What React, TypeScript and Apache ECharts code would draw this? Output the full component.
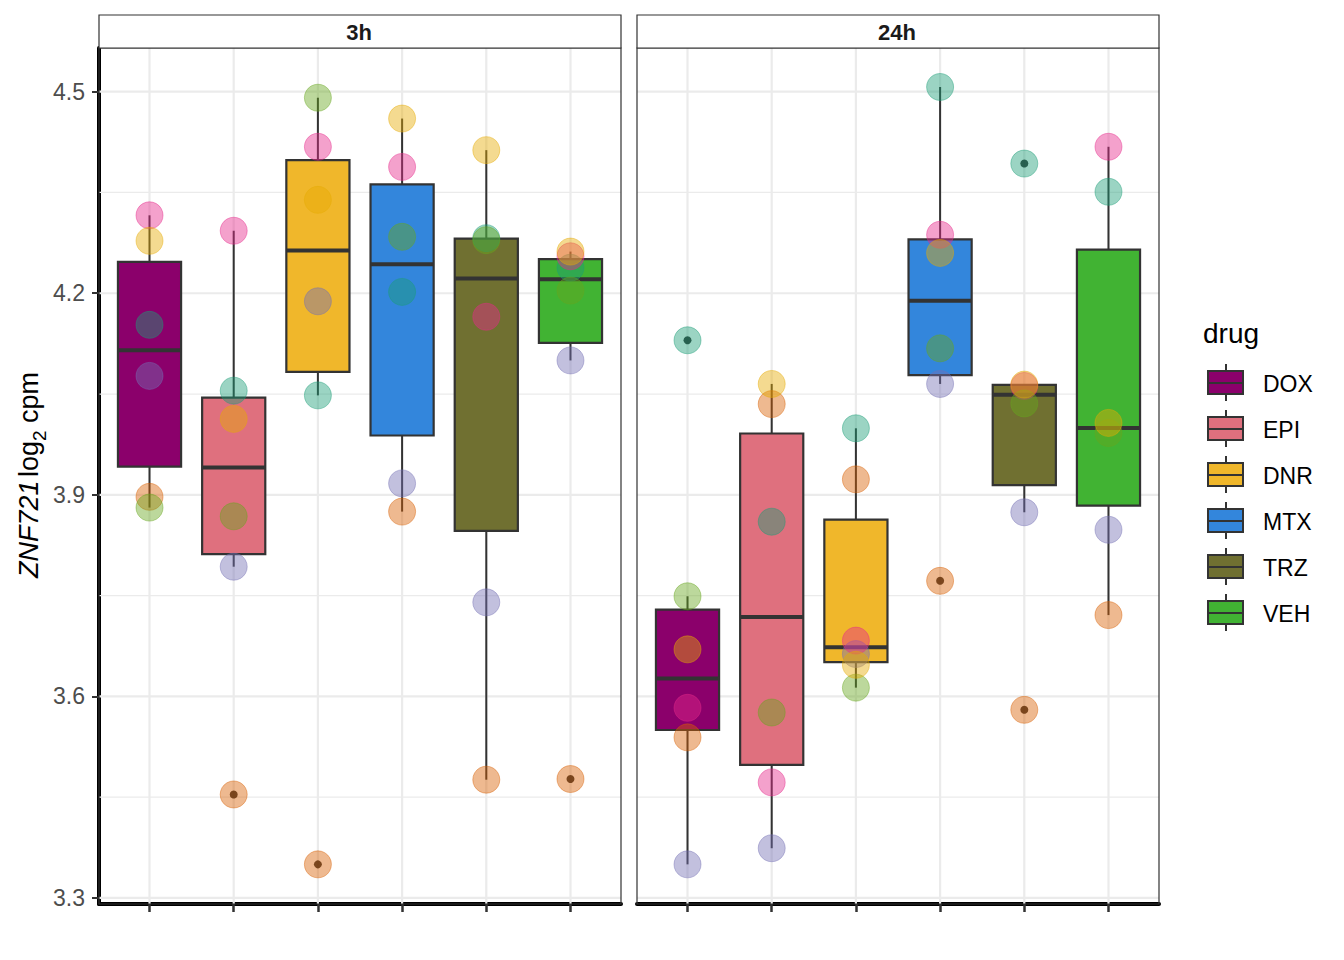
import React, { useEffect, useRef } from "react";
import * as echarts from "echarts";

const FONT = "'Liberation Sans', Arial, sans-serif";

const drugs = ["DOX", "EPI", "DNR", "MTX", "TRZ", "VEH"];
const drugColors = ["#8B006B", "#DF707E", "#F0B72B", "#3386DC", "#707031", "#41B333"];
const times = ["3h", "24h"];

// individuals (Dark2 palette order), values in drug order
const indColors = ["#1B9E77", "#D95F02", "#7570B3", "#E7298A", "#66A61E", "#E6AB02"];

const ind1_3h = [4.153, 4.055, 4.048, 4.202, 4.282, 4.238];
const ind2_3h = [3.897, 3.454, 3.350, 3.875, 3.476, 3.477];
const ind3_3h = [4.077, 3.793, 4.188, 3.917, 3.740, 4.100];
const ind4_3h = [4.316, 4.293, 4.418, 4.388, 4.165, 4.255];
const ind5_3h = [3.881, 3.868, 4.491, 4.284, 4.279, 4.204];
const ind6_3h = [4.278, 4.013, 4.339, 4.460, 4.413, 4.262];

const ind1_24h = [4.130, 3.860, 3.999, 4.507, 4.393, 4.351];
const ind2_24h = [3.539, 4.035, 3.923, 3.772, 3.580, 3.721];
const ind3_24h = [3.350, 3.374, 3.663, 4.065, 3.874, 3.848];
const ind4_24h = [3.583, 3.472, 3.683, 4.287, 4.062, 4.418];
const ind5_24h = [3.749, 3.576, 3.613, 4.118, 4.036, 3.992];
const ind6_24h = [3.670, 4.065, 3.647, 4.260, 4.064, 4.007];

const values = [
  [ind1_3h, ind2_3h, ind3_3h, ind4_3h, ind5_3h, ind6_3h],
  [ind1_24h, ind2_24h, ind3_24h, ind4_24h, ind5_24h, ind6_24h],
];

const yTicks = [3.3, 3.6, 3.9, 4.2, 4.5];
const yMinor = [3.45, 3.75, 4.05, 4.35];
const xTicks = [1, 2, 3, 4, 5, 6];
const Y_MIN = 3.291;
const Y_MAX = 4.565;
const X_MIN = 0.4;
const X_MAX = 6.6;

const panelLefts = [99, 637];
const PANEL_TOP = 48;
const PANEL_W = 522;
const PANEL_H = 856;

function quantile(s: number[], p: number) {
  const h = (s.length - 1) * p;
  const lo = Math.floor(h);
  const hi = Math.min(lo + 1, s.length - 1);
  return s[lo] + (h - lo) * (s[hi] - s[lo]);
}

function boxStats(vals: number[]) {
  const s = [...vals].sort((a, b) => a - b);
  const q1 = quantile(s, 0.25);
  const med = quantile(s, 0.5);
  const q3 = quantile(s, 0.75);
  const iqr = q3 - q1;
  const lf = q1 - 1.5 * iqr;
  const hf = q3 + 1.5 * iqr;
  const inside = s.filter((v) => v >= lf && v <= hf);
  const out = s.filter((v) => v < lf || v > hf);
  return { lo: inside[0], q1, med, q3, hi: inside[inside.length - 1], out };
}

function hexToRgba(hex: string, a: number) {
  const n = parseInt(hex.slice(1), 16);
  return `rgba(${(n >> 16) & 255},${(n >> 8) & 255},${n & 255},${a})`;
}

export default function App() {
  const ref = useRef<HTMLDivElement>(null);
  useEffect(() => {
    if (!ref.current) return;
    const chart = echarts.init(ref.current, null, { renderer: "svg" });

    const grids: any[] = [];
    const xAxes: any[] = [];
    const yAxes: any[] = [];
    const series: any[] = [];
    const graphics: any[] = [];

    times.forEach((t, pi) => {
      grids.push({ left: panelLefts[pi], top: PANEL_TOP, width: PANEL_W, height: PANEL_H });
      xAxes.push({
        type: "value",
        gridIndex: pi,
        min: X_MIN,
        max: X_MAX,
        axisLine: { show: true, onZero: false, lineStyle: { color: "#000", width: 4 } },
        axisTick: { show: true, customValues: xTicks, length: 8, lineStyle: { color: "#333", width: 2.5 } },
        axisLabel: { show: false },
        splitLine: { show: false },
      });
      yAxes.push({
        type: "value",
        gridIndex: pi,
        min: Y_MIN,
        max: Y_MAX,
        axisLine: { show: pi === 0, onZero: false, lineStyle: { color: "#000", width: 4 } },
        axisTick: { show: pi === 0, customValues: yTicks, length: 7, lineStyle: { color: "#333", width: 2 } },
        axisLabel: {
          show: pi === 0,
          customValues: yTicks,
          formatter: (v: number) => v.toFixed(1),
          color: "#4D4D4D",
          fontSize: 23,
          fontFamily: FONT,
          margin: 14,
        },
        splitLine: { show: false },
      });

      // grid lines
      series.push({
        type: "custom",
        xAxisIndex: pi,
        yAxisIndex: pi,
        z: 1,
        silent: true,
        data: [[1, 4]],
        renderItem: (_p: any, api: any) => {
          const children: any[] = [];
          yMinor.forEach((v) => {
            const a = api.coord([X_MIN, v]);
            const b = api.coord([X_MAX, v]);
            children.push({ type: "line", shape: { x1: a[0], y1: a[1], x2: b[0], y2: b[1] }, style: { stroke: "#EBEBEB", lineWidth: 1.2 } });
          });
          yTicks.forEach((v) => {
            const a = api.coord([X_MIN, v]);
            const b = api.coord([X_MAX, v]);
            children.push({ type: "line", shape: { x1: a[0], y1: a[1], x2: b[0], y2: b[1] }, style: { stroke: "#EBEBEB", lineWidth: 2.2 } });
          });
          xTicks.forEach((v) => {
            const a = api.coord([v, Y_MIN]);
            const b = api.coord([v, Y_MAX]);
            children.push({ type: "line", shape: { x1: a[0], y1: a[1], x2: b[0], y2: b[1] }, style: { stroke: "#EBEBEB", lineWidth: 2.2 } });
          });
          return { type: "group", children };
        },
      });

      // boxplots
      const boxData: any[] = [];
      const outData: any[] = [];
      drugs.forEach((d, di) => {
        const vals = values[pi].map((arr) => arr[di]);
        const st = boxStats(vals);
        boxData.push([di + 1, st.lo, st.q1, st.med, st.q3, st.hi, di]);
        st.out.forEach((o) => outData.push([di + 1, o]));
      });
      series.push({
        type: "custom",
        xAxisIndex: pi,
        yAxisIndex: pi,
        z: 2,
        silent: true,
        data: boxData,
        renderItem: (_p: any, api: any) => {
          const x = api.value(0);
          const lo = api.value(1), q1 = api.value(2), med = api.value(3), q3 = api.value(4), hi = api.value(5);
          const ci = api.value(6);
          const hw = 0.375;
          const pLo = api.coord([x, lo]);
          const pQ1 = api.coord([x, q1]);
          const pQ3 = api.coord([x, q3]);
          const pHi = api.coord([x, hi]);
          const tl = api.coord([x - hw, q3]);
          const br = api.coord([x + hw, q1]);
          const ml = api.coord([x - hw, med]);
          const mr = api.coord([x + hw, med]);
          return {
            type: "group",
            children: [
              { type: "line", shape: { x1: pLo[0], y1: pLo[1], x2: pQ1[0], y2: pQ1[1] }, style: { stroke: "#333", lineWidth: 2 } },
              { type: "line", shape: { x1: pQ3[0], y1: pQ3[1], x2: pHi[0], y2: pHi[1] }, style: { stroke: "#333", lineWidth: 2 } },
              { type: "rect", shape: { x: tl[0], y: tl[1], width: br[0] - tl[0], height: br[1] - tl[1] }, style: { fill: drugColors[ci], stroke: "#333", lineWidth: 2.2 } },
              { type: "line", shape: { x1: ml[0], y1: ml[1], x2: mr[0], y2: mr[1] }, style: { stroke: "#333", lineWidth: 4 } },
            ],
          };
        },
      });
      series.push({
        type: "scatter",
        xAxisIndex: pi,
        yAxisIndex: pi,
        z: 3,
        silent: true,
        symbol: "circle",
        symbolSize: 8,
        itemStyle: { color: "#000" },
        data: outData,
      });

      // individual points
      values[pi].forEach((arr, ii) => {
        series.push({
          type: "scatter",
          xAxisIndex: pi,
          yAxisIndex: pi,
          z: 4 + ii * 0.01,
          silent: true,
          symbol: "circle",
          symbolSize: 27,
          itemStyle: {
            color: hexToRgba(indColors[ii], 0.55),
            borderColor: hexToRgba(indColors[ii], 0.55),
            borderWidth: 1,
          },
          data: arr.map((v, di) => [di + 1, v]),
        });
      });

      // strip
      graphics.push({
        type: "rect",
        z: 100,
        shape: { x: panelLefts[pi], y: 15, width: PANEL_W, height: PANEL_TOP - 15 },
        style: { fill: "#fff", stroke: "#333", lineWidth: 1.2 },
      });
      graphics.push({
        type: "text",
        z: 101,
        x: panelLefts[pi] + PANEL_W / 2 - 1,
        y: 32,
        style: { text: t, fill: "#1A1A1A", font: `bold 22px ${FONT}`, align: "center", verticalAlign: "middle" },
      });
      // panel border
      graphics.push({
        type: "rect",
        z: 99,
        shape: { x: panelLefts[pi], y: PANEL_TOP, width: PANEL_W, height: PANEL_H },
        style: { fill: "none", stroke: "#333", lineWidth: 1.2 },
      });
    });

    // y-axis title
    graphics.push({
      type: "text",
      z: 101,
      x: 29,
      y: 475,
      rotation: Math.PI / 2,
      style: {
        text: "{it|ZNF721} {n|log}{s|2}{n| cpm}",
        align: "center",
        verticalAlign: "middle",
        rich: {
          it: { fontStyle: "italic", fontSize: 27, fontFamily: FONT, fill: "#000", lineHeight: 40, verticalAlign: "middle" },
          n: { fontSize: 27, fontFamily: FONT, fill: "#000", lineHeight: 40, verticalAlign: "middle" },
          s: { fontSize: 19, fontFamily: FONT, fill: "#000", lineHeight: 40, verticalAlign: "bottom" },
        },
      },
    });

    // legend
    graphics.push({
      type: "text",
      z: 101,
      x: 1203,
      y: 333,
      style: { text: "drug", fill: "#000", font: `28px ${FONT}`, align: "left", verticalAlign: "middle" },
    });
    drugs.forEach((d, i) => {
      const cy = 383 + 46 * i;
      graphics.push({
        type: "line",
        z: 101,
        shape: { x1: 1226, y1: cy - 19, x2: 1226, y2: cy + 18 },
        style: { stroke: "#333", lineWidth: 2 },
      });
      graphics.push({
        type: "rect",
        z: 102,
        shape: { x: 1208, y: cy - 12, width: 35, height: 23 },
        style: { fill: drugColors[i], stroke: "#333", lineWidth: 2 },
      });
      graphics.push({
        type: "line",
        z: 103,
        shape: { x1: 1208, y1: cy, x2: 1243, y2: cy },
        style: { stroke: "#333", lineWidth: 2 },
      });
      graphics.push({
        type: "text",
        z: 101,
        x: 1263,
        y: cy + 1,
        style: { text: d, fill: "#000", font: `23px ${FONT}`, align: "left", verticalAlign: "middle" },
      });
    });

    chart.setOption({
      animation: false,
      backgroundColor: "#fff",
      grid: grids,
      xAxis: xAxes,
      yAxis: yAxes,
      series,
      graphic: graphics,
    });
    return () => chart.dispose();
  }, []);

  return <div ref={ref} style={{ position: "absolute", left: 0, top: 0, width: 1344, height: 960 }} />;
}
